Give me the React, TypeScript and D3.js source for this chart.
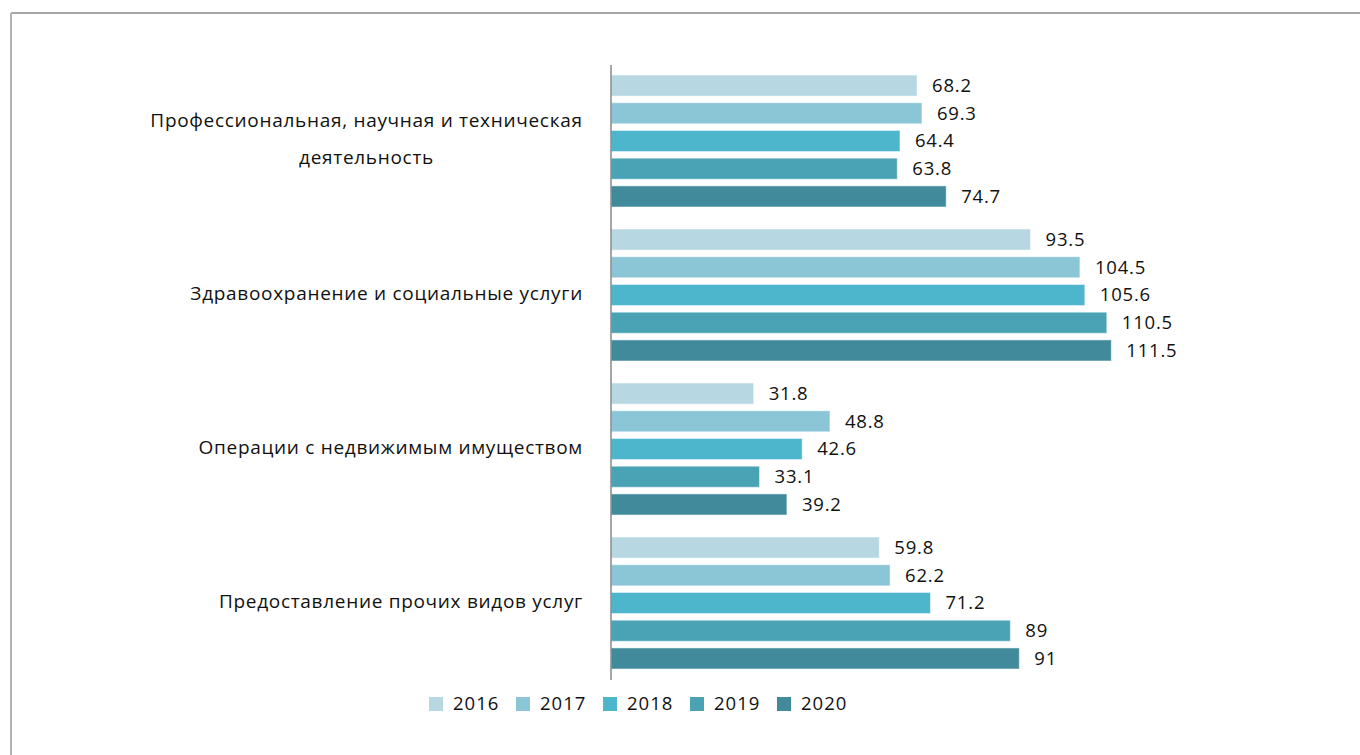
import { scaleBand, scaleLinear } from 'd3';

const categories = [
  ['Профессиональная, научная и техническая', 'деятельность'],
  ['Здравоохранение и социальные услуги'],
  ['Операции с недвижимым имуществом'],
  ['Предоставление прочих видов услуг'],
];
const years = ['2016', '2017', '2018', '2019', '2020'];
const colors = ['#b7d8e2', '#8bc6d6', '#4db6cc', '#4aa3b5', '#418a9b'];
// values per category, in year order
const values = [
  [68.2, 69.3, 64.4, 63.8, 74.7],
  [93.5, 104.5, 105.6, 110.5, 111.5],
  [31.8, 48.8, 42.6, 33.1, 39.2],
  [59.8, 62.2, 71.2, 89, 91],
];

const W = 1360;
const H = 755;
const font = "'Open Sans', 'Noto Sans', sans-serif";
const labelRight = 583;
const firstLineWidth = 433; // multi-line labels are centred under their first line

const App = () => {
  const idx = categories.map((_, i) => i);
  const groupScale = scaleBand<number>()
    .domain(idx)
    .range([64, 680])
    .paddingInner(0.143)
    .paddingOuter(0.0714);
  const yearScale = scaleBand<string>()
    .domain(years)
    .range([0, groupScale.bandwidth()])
    .paddingInner(0.24);
  const xScale = scaleLinear().domain([0, 120]).range([611, 611 + 120 * 4.487]);

  return (
    <svg width={W} height={H} style={{ position: 'absolute', left: 0, top: 0 }}>
      <rect width={W} height={H} fill="#fff" />
      {/* frame */}
      <line x1={11} x2={W} y1={13} y2={13} stroke="#888" strokeWidth={1.5} />
      <line x1={11} x2={11} y1={13} y2={H} stroke="#b3b3b3" strokeWidth={2} />

      {values.map((row, ci) => {
        const g0 = groupScale(ci) ?? 0;
        const lines = categories[ci];
        const cy = g0 + groupScale.bandwidth() / 2;
        const multi = lines.length > 1;
        return (
          <g key={ci}>
            {row.map((v, yi) => {
              const y = g0 + (yearScale(years[yi]) ?? 0);
              return (
                <g key={yi}>
                  <rect
                    x={xScale(0)}
                    y={y}
                    width={xScale(v) - xScale(0)}
                    height={yearScale.bandwidth()}
                    fill={colors[yi]}
                    stroke="#ffffff"
                    strokeOpacity={0.5}
                    strokeWidth={1}
                  />
                  <text
                    x={xScale(v) + 15}
                    y={y + yearScale.bandwidth() / 2}
                    dy="0.35em"
                    fontFamily={font}
                    fontSize={18.5}
                    letterSpacing={0.8}
                    fill="#111"
                  >
                    {v}
                  </text>
                </g>
              );
            })}
            {lines.map((t, li) => (
              <text
                key={li}
                x={multi ? labelRight - firstLineWidth / 2 : labelRight}
                y={cy + (li - (lines.length - 1) / 2) * 37 - 2}
                dy="0.35em"
                textAnchor={multi ? 'middle' : 'end'}
                fontFamily={font}
                fontSize={19}
                letterSpacing={0.7}
                fill="#111"
              >
                {t}
              </text>
            ))}
          </g>
        );
      })}

      <line x1={611} x2={611} y1={65} y2={680} stroke="#888" strokeWidth={1.5} />

      {/* legend */}
      {years.map((yr, i) => {
        const lx = 429 + i * 87;
        return (
          <g key={yr}>
            <rect x={lx} y={697} width={14} height={14} fill={colors[i]} />
            <text
              x={lx + 24}
              y={704}
              dy="0.35em"
              fontFamily={font}
              fontSize={18.5}
              letterSpacing={1}
              fill="#111"
            >
              {yr}
            </text>
          </g>
        );
      })}
    </svg>
  );
};

export default App;
